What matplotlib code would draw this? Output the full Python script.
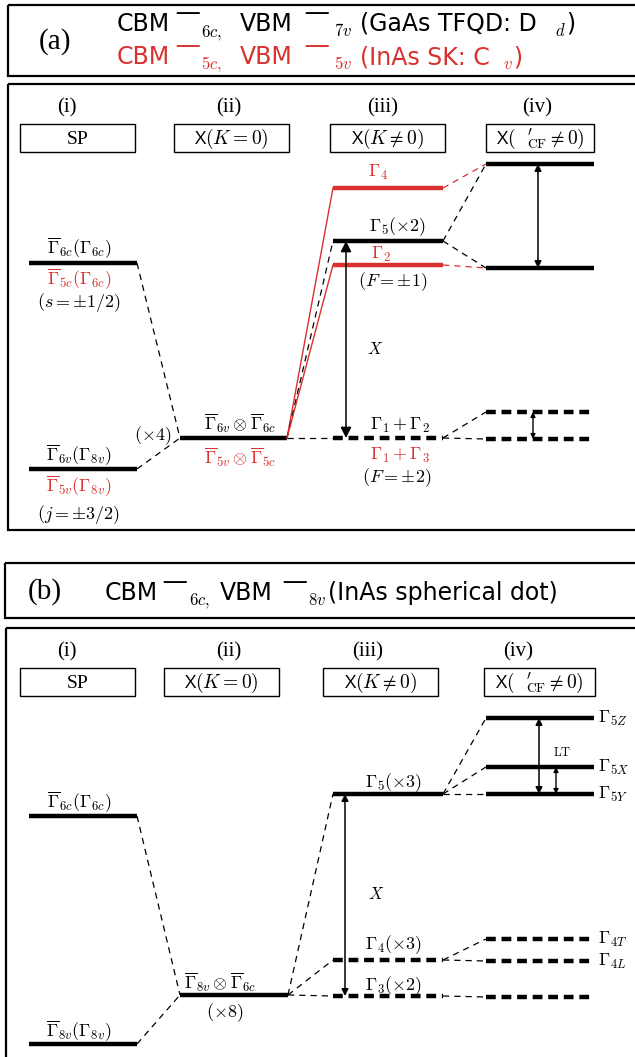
import matplotlib.pyplot as plt
from matplotlib.patches import Rectangle

plt.rcParams['mathtext.fontset'] = 'cm'
plt.rcParams['font.family'] = ['Open Sans', 'DejaVu Sans']

RED = '#d8312f'

# ---- panel (a): level energies (y in picture units, down is lower energy)
a_sp_names = [r'$\overline{\Gamma}_{6c}(\Gamma_{6c})$', r'$\overline{\Gamma}_{6v}(\Gamma_{8v})$']
a_sp_red = [r'$\overline{\Gamma}_{5c}(\Gamma_{6c})$', r'$\overline{\Gamma}_{5v}(\Gamma_{8v})$']
a_sp_extra = [r'$(s=\pm 1/2)$', r'$(j=\pm 3/2)$']
a_sp_y = [263, 469]
a_x0_y = 438
a_k_y = [188, 241, 265, 438]          # G4(red), G5(x2), G2(red), G1+G2
a_k_col = [RED, 'k', RED, 'k']
a_k_dash = [False, False, False, True]
a_cf_y = [164, 268, 412, 439]
a_cf_dash = [False, False, True, True]

# ---- panel (b)
b_sp_names = [r'$\overline{\Gamma}_{6c}(\Gamma_{6c})$', r'$\overline{\Gamma}_{8v}(\Gamma_{8v})$']
b_sp_y = [816, 1044]
b_x0_y = 995
b_k_names = [r'$\Gamma_5(\times 3)$', r'$\Gamma_4(\times 3)$', r'$\Gamma_3(\times 2)$']
b_k_y = [794, 960, 996]
b_k_dash = [False, True, True]
b_cf_names = [r'$\Gamma_{5Z}$', r'$\Gamma_{5X}$', r'$\Gamma_{5Y}$', r'$\Gamma_{4T}$', r'$\Gamma_{4L}$', '']
b_cf_y = [718, 767, 794, 939, 961, 997]
b_cf_dash = [False, False, False, True, True, True]
b_links = [(0, 0), (0, 1), (0, 2), (1, 3), (1, 4), (2, 5)]

headers = ['(i)', '(ii)', '(iii)', '(iv)']
boxes = ['SP', r'X$(K=0)$', r'X$(K\neq 0)$', r"X$(\ \ {}^{\prime}_{\rm CF}\neq 0)$"]

# title pieces: (text, x, is_subscript)
title_a1 = [('CBM', 117, 0), ('‾‾', 176, 0), (r'$6c,$', 201, 1), ('VBM', 240, 0), ('‾‾', 305, 0),
            (r'$7v$', 334, 1), ('(GaAs TFQD: D', 360, 0), (r'$d$', 555, 1), (')', 566, 0)]
title_a2 = [('CBM', 117, 0), ('‾‾', 176, 0), (r'$5c,$', 201, 1), ('VBM', 240, 0), ('‾‾', 305, 0),
            (r'$5v$', 334, 1), ('(InAs SK: C', 360, 0), (r'$v$', 503, 1), (')', 513, 0)]
title_b = [('CBM', 105, 0), ('‾‾', 163, 0), (r'$6c,$', 189, 1), ('VBM', 220, 0), ('‾‾', 283, 0),
           (r'$8v$', 308, 1), ('(InAs spherical dot)', 328, 0)]

fig = plt.figure(figsize=(6.35, 10.57), dpi=100)
ax = fig.add_axes([0, 0, 1, 1])
ax.set_xlim(0, 635)
ax.set_ylim(1057, 0)
ax.axis('off')


def level(x0, x1, y, c='k', dashed=False):
    if dashed:
        ax.plot([x0, x1], [y, y], color=c, lw=3.2, ls=(0, (2.2, 1.3)), solid_capstyle='butt')
    else:
        ax.plot([x0, x1], [y, y], color=c, lw=3.2, solid_capstyle='butt')


def link(p, q, c='k'):
    ax.plot([p[0], q[0]], [p[1], q[1]], color=c, lw=0.9, ls=(0, (5, 4)))


def arrow(x, y0, y1, ms=14, lw=1.1):
    ax.annotate('', xy=(x, y0), xytext=(x, y1),
                arrowprops=dict(arrowstyle='<|-|>', color='k', lw=lw,
                                mutation_scale=ms, shrinkA=0, shrinkB=0))


def frame(x0, y0, x1, y1, lw=1.6):
    ax.add_patch(Rectangle((x0, y0), x1 - x0, y1 - y0, fill=False, lw=lw, ec='k'))


def title(pieces, base, c='k'):
    for s, x, sub in pieces:
        if sub:
            ax.text(x, base + 5, s, ha='left', va='baseline', fontsize=12, color=c)
        else:
            ax.text(x, base, s, ha='left', va='baseline', fontsize=17, color=c,
                    family='DejaVu Sans')


def heads(hx, hy, bx, by):
    for i in range(4):
        ax.text(hx[i], hy, headers[i], ha='center', va='center', fontsize=15,
                family='Liberation Serif')
        frame(bx[i][0], by[0], bx[i][1], by[1], lw=1.0)
        fam = 'Liberation Serif' if i == 0 else ['Open Sans', 'DejaVu Sans']
        ax.text((bx[i][0] + bx[i][1]) / 2, (by[0] + by[1]) / 2 + 1, boxes[i],
                ha='center', va='center', fontsize=14, family=fam)


# ================= panel (a) =================
frame(8, 5, 660, 76)
ax.text(55, 42, '(a)', ha='center', va='center', fontsize=21, family='Liberation Serif')
title(title_a1, 31)
title(title_a2, 64, RED)
frame(8, 84, 660, 530)

ca = [(29, 137), (180, 287), (333, 443), (486, 594)]
heads([67, 229, 383, 537], 108, [(20, 135), (174, 289), (330, 445), (486, 594)], (124, 152))

for i in range(2):
    level(ca[0][0], ca[0][1], a_sp_y[i])
    link((ca[0][1], a_sp_y[i]), (ca[1][0], a_x0_y))
ax.text(79, 248, a_sp_names[0], ha='center', va='center', fontsize=13)
ax.text(79, 279, a_sp_red[0], ha='center', va='center', fontsize=13, color=RED)
ax.text(79, 302, a_sp_extra[0], ha='center', va='center', fontsize=13)
ax.text(79, 455, a_sp_names[1], ha='center', va='center', fontsize=13)
ax.text(79, 486, a_sp_red[1], ha='center', va='center', fontsize=13, color=RED)
ax.text(79, 514, a_sp_extra[1], ha='center', va='center', fontsize=13)
ax.text(153, 436, r'$(\times 4)$', ha='center', va='center', fontsize=13)

level(ca[1][0], ca[1][1], a_x0_y)
ax.text(240, 423, r'$\overline{\Gamma}_{6v}\otimes\overline{\Gamma}_{6c}$', ha='center', va='center', fontsize=13)
ax.text(240, 457, r'$\overline{\Gamma}_{5v}\otimes\overline{\Gamma}_{5c}$', ha='center', va='center', fontsize=13, color=RED)

for i in range(4):
    level(ca[2][0], ca[2][1], a_k_y[i], a_k_col[i], a_k_dash[i])
    if a_k_col[i] == RED:
        ax.plot([ca[1][1], ca[2][0]], [a_x0_y, a_k_y[i]], color=RED, lw=1.0)
    else:
        link((ca[1][1], a_x0_y), (ca[2][0], a_k_y[i]))
ax.text(378, 172, r'$\Gamma_4$', ha='center', va='center', fontsize=13, color=RED)
ax.text(397, 227, r'$\Gamma_5(\times 2)$', ha='center', va='center', fontsize=13)
ax.text(381, 254, r'$\Gamma_2$', ha='center', va='center', fontsize=13, color=RED)
ax.text(393, 282, r'$(F=\pm 1)$', ha='center', va='center', fontsize=13)
ax.text(400, 425, r'$\Gamma_1+\Gamma_2$', ha='center', va='center', fontsize=13)
ax.text(400, 455, r'$\Gamma_1+\Gamma_3$', ha='center', va='center', fontsize=13, color=RED)
ax.text(397, 478, r'$(F=\pm 2)$', ha='center', va='center', fontsize=13)
arrow(346, a_k_y[1], a_k_y[3], ms=16)
ax.text(375, 350, r'$X$', ha='center', va='center', fontsize=12)

for i in range(4):
    level(ca[3][0], ca[3][1], a_cf_y[i], 'k', a_cf_dash[i])
link((ca[2][1], a_k_y[0]), (ca[3][0], a_cf_y[0]), RED)
link((ca[2][1], a_k_y[2]), (ca[3][0], a_cf_y[1]), RED)
link((ca[2][1], a_k_y[1]), (ca[3][0], a_cf_y[0]))
link((ca[2][1], a_k_y[1]), (ca[3][0], a_cf_y[1]))
link((ca[2][1], a_k_y[3]), (ca[3][0], a_cf_y[2]))
link((ca[2][1], a_k_y[3]), (ca[3][0], a_cf_y[3]))
arrow(538, a_cf_y[0], a_cf_y[1], ms=10)
arrow(533, a_cf_y[2], a_cf_y[3], ms=7, lw=1.0)

# ================= panel (b) =================
frame(5, 563, 660, 618)
ax.text(45, 592, '(b)', ha='center', va='center', fontsize=21, family='Liberation Serif')
title(title_b, 600)
frame(6, 628, 660, 1080)

cb = [(29, 137), (180, 288), (333, 443), (486, 594)]
heads([67, 229, 368, 518], 652, [(20, 135), (164, 279), (323, 438), (484, 595)], (668, 696))

for i in range(2):
    level(cb[0][0], cb[0][1], b_sp_y[i])
    link((cb[0][1], b_sp_y[i]), (cb[1][0], b_x0_y))
ax.text(79, 802, b_sp_names[0], ha='center', va='center', fontsize=13)
ax.text(79, 1031, b_sp_names[1], ha='center', va='center', fontsize=13)

level(cb[1][0], cb[1][1], b_x0_y)
ax.text(220, 982, r'$\overline{\Gamma}_{8v}\otimes\overline{\Gamma}_{6c}$', ha='center', va='center', fontsize=13)
ax.text(225, 1013, r'$(\times 8)$', ha='center', va='center', fontsize=13)

for i in range(3):
    level(cb[2][0], cb[2][1], b_k_y[i], 'k', b_k_dash[i])
    link((cb[1][1], b_x0_y), (cb[2][0], b_k_y[i]))
ax.text(393, 783, b_k_names[0], ha='center', va='center', fontsize=13)
ax.text(393, 945, b_k_names[1], ha='center', va='center', fontsize=13)
ax.text(393, 986, b_k_names[2], ha='center', va='center', fontsize=13)
arrow(345, b_k_y[0], b_k_y[2], ms=10)
ax.text(376, 895, r'$X$', ha='center', va='center', fontsize=12)

for i in range(6):
    level(cb[3][0], cb[3][1], b_cf_y[i], 'k', b_cf_dash[i])
    ax.text(598, b_cf_y[i], b_cf_names[i], ha='left', va='center', fontsize=13)
for k, j in b_links:
    link((cb[2][1], b_k_y[k]), (cb[3][0], b_cf_y[j]))
arrow(539, b_cf_y[0], b_cf_y[2], ms=10)
arrow(556, b_cf_y[1], b_cf_y[2], ms=7, lw=1.0)
ax.text(562, 752, r'$\rm LT$', ha='center', va='center', fontsize=9)

fig.savefig('out.png', dpi=100)
